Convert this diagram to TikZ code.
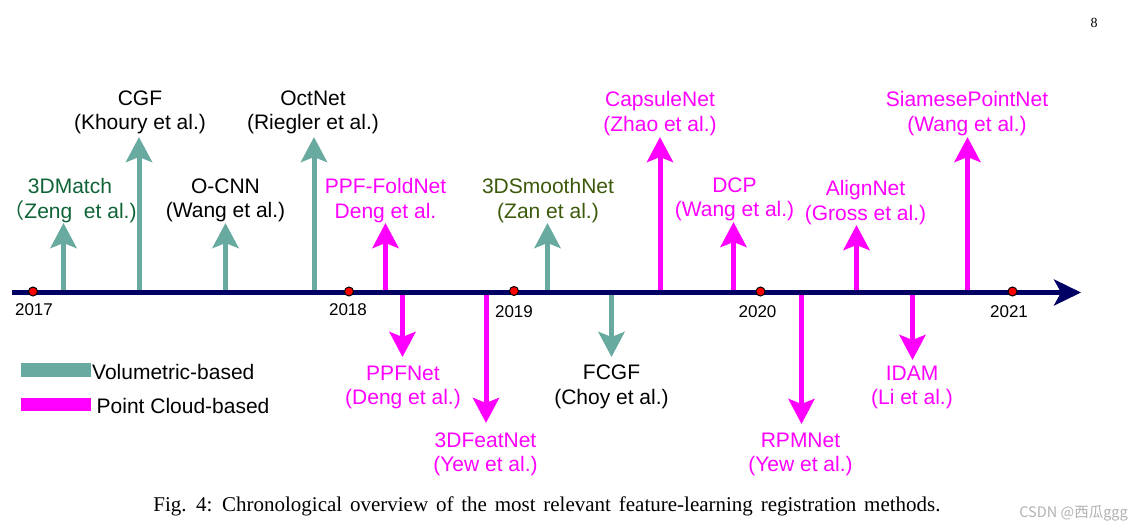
\documentclass[tikz,border=0pt]{standalone}
\usepackage{fontspec}
\setmainfont{Liberation Sans}
\newfontfamily\capfont{Liberation Serif}
\newfontfamily\cjk{Noto Sans CJK SC}
\usetikzlibrary{arrows.meta}
\definecolor{volColor}{RGB}{104,170,160}
\definecolor{ptColor}{RGB}{255,0,255}
\definecolor{axisColor}{RGB}{0,0,100}
\definecolor{matchColor}{RGB}{15,100,55}
\definecolor{smoothColor}{RGB}{60,90,10}
\tikzset{
	volarrow/.style={draw=volColor,line width=5pt,-{Stealth[length=25pt,width=26pt,inset=5pt]}},
	ptarrow/.style={draw=ptColor,line width=5pt,-{Stealth[length=25pt,width=26pt,inset=5pt]}},
	method/.style={align=center,inner sep=0pt,font=\fontsize{21}{24.5}\selectfont},
	year/.style={inner sep=0pt,font=\fontsize{17}{20}\selectfont},
	yeardot/.style={circle,fill=red,draw=black,line width=1pt,minimum size=9pt,inner sep=0pt},
	legendbox/.style={inner sep=0pt,minimum width=70pt,minimum height=13.5pt}
}
\begin{document}
\begin{tikzpicture}[x=1pt,y=-1pt]
				\useasboundingbox[fill=white] (0,0) rectangle (1136,530);
				% timeline
				\coordinate (start) at (12,292.5);
				\coordinate (end) at (1081,292.5);
				% arrows above the line
				\coordinate (match-b) at (63.5,292); \coordinate (match-t) at (63.5,223);
				\coordinate (cgf-b) at (139,292); \coordinate (cgf-t) at (139,137);
				\coordinate (ocnn-b) at (225.5,292); \coordinate (ocnn-t) at (225.5,223);
				\coordinate (oct-b) at (314,292); \coordinate (oct-t) at (314,137);
				\coordinate (fold-b) at (385.5,292); \coordinate (fold-t) at (385.5,223);
				\coordinate (smooth-b) at (547.5,292); \coordinate (smooth-t) at (547.5,223);
				\coordinate (caps-b) at (660,292); \coordinate (caps-t) at (660,137);
				\coordinate (dcp-b) at (733.5,292); \coordinate (dcp-t) at (733.5,222);
				\coordinate (align-b) at (856.5,292); \coordinate (align-t) at (856.5,225);
				\coordinate (siam-b) at (967.5,292); \coordinate (siam-t) at (967.5,137);
				% arrows below the line
				\coordinate (ppf-b) at (402.5,292); \coordinate (ppf-t) at (402.5,357);
				\coordinate (feat-b) at (486,292); \coordinate (feat-t) at (486,423);
				\coordinate (fcgf-b) at (611.5,292); \coordinate (fcgf-t) at (611.5,357);
				\coordinate (rpm-b) at (801.5,292); \coordinate (rpm-t) at (801.5,424);
				\coordinate (idam-b) at (912.5,292); \coordinate (idam-t) at (912.5,360);
				
				\draw[volarrow] (match-b)--(match-t);
				\draw[volarrow] (cgf-b)--(cgf-t);
				\draw[volarrow] (ocnn-b)--(ocnn-t);
				\draw[volarrow] (oct-b)--(oct-t);
				\draw[ptarrow] (fold-b)--(fold-t);
				\draw[volarrow] (smooth-b)--(smooth-t);
				\draw[ptarrow] (caps-b)--(caps-t);
				\draw[ptarrow] (dcp-b)--(dcp-t);
				\draw[ptarrow] (align-b)--(align-t);
				\draw[ptarrow] (siam-b)--(siam-t);
				\draw[ptarrow] (ppf-b)--(ppf-t);
				\draw[ptarrow] (feat-b)--(feat-t);
				\draw[volarrow] (fcgf-b)--(fcgf-t);
				\draw[ptarrow] (rpm-b)--(rpm-t);
				\draw[ptarrow] (idam-b)--(idam-t);
				
				\draw[axisColor,line width=4.5pt,-{Stealth[length=27pt,width=26pt,inset=7pt]}] (start)--(end);
				
				\node[yeardot] (d2017) at (33,291.5) {};
				\node[yeardot] (d2018) at (349,291.5) {};
				\node[yeardot] (d2019) at (514,291) {};
				\node[yeardot] (d2020) at (760.5,291.5) {};
				\node[yeardot] (d2021) at (1012.5,291.5) {};
				\node[year] (y2017) at (34,310) {2017};
				\node[year] (y2018) at (348,310) {2018};
				\node[year] (y2019) at (514,312) {2019};
				\node[year] (y2020) at (757.5,311.5) {2020};
				\node[year] (y2021) at (1009,311.5) {2021};
				
				\node[method,text=matchColor] (match) at (70,200.5) {3DMatch\\{\cjk （}Zeng\ \ et al.)};
				\node[method] (cgf) at (140,112.5) {CGF\\(Khoury et al.)};
				\node[method] (ocnn) at (225.5,200.5) {O-CNN\\(Wang et al.)};
				\node[method] (oct) at (313,112.5) {OctNet\\(Riegler et al.)};
				\node[method,text=ptColor] (fold) at (385.5,200.5) {PPF-FoldNet\\Deng et al.};
				\node[method,text=smoothColor] (smooth) at (548,200.5) {3DSmoothNet\\(Zan et al.)};
				\node[method,text=ptColor] (caps) at (660,113.5) {CapsuleNet\\(Zhao et al.)};
				\node[method,text=ptColor] (dcp) at (734.5,199.5) {DCP\\(Wang et al.)};
				\node[method,text=ptColor] (align) at (865.5,202.5) {AlignNet\\(Gross et al.)};
				\node[method,text=ptColor] (siam) at (967,113.5) {SiamesePointNet\\(Wang et al.)};
				\node[method,text=ptColor] (ppf) at (403,387.5) {PPFNet\\(Deng et al.)};
				\node[method,text=ptColor] (feat) at (485.5,454.5) {3DFeatNet\\(Yew et al.)};
				\node[method] (fcgf) at (611.5,387) {FCGF\\(Choy et al.)};
				\node[method,text=ptColor] (rpm) at (800.5,454.5) {RPMNet\\(Yew et al.)};
				\node[method,text=ptColor] (idam) at (912,387.5) {IDAM\\(Li et al.)};
				
				% legend
				\node[legendbox,fill=volColor,anchor=north west] (volbox) at (21,363) {};
				\node[legendbox,fill=ptColor,anchor=north west] (ptbox) at (21,397.5) {};
				\node[anchor=base west,inner sep=0pt,font=\fontsize{21}{24}\selectfont] (vollabel) at (92,379) {Volumetric-based};
				\node[anchor=base west,inner sep=0pt,font=\fontsize{21}{24}\selectfont] (ptlabel) at (96.5,413) {Point Cloud-based};
				
				\node[anchor=base,inner sep=0pt,font=\capfont\fontsize{21}{24}\selectfont] (caption) at (547,511.5) {\spaceskip=7.8pt Fig. 4: Chronological overview of the most relevant feature-learning registration methods.};
				\node[inner sep=0pt,font=\capfont\fontsize{14}{16}\selectfont] (page) at (1094,23) {8};
				\node[anchor=east,inner sep=0pt,text=gray!60,font=\cjk\fontsize{14.5}{16}\selectfont] (mark) at (1128,513) {CSDN @西瓜ggg};
\end{tikzpicture}
\end{document}
